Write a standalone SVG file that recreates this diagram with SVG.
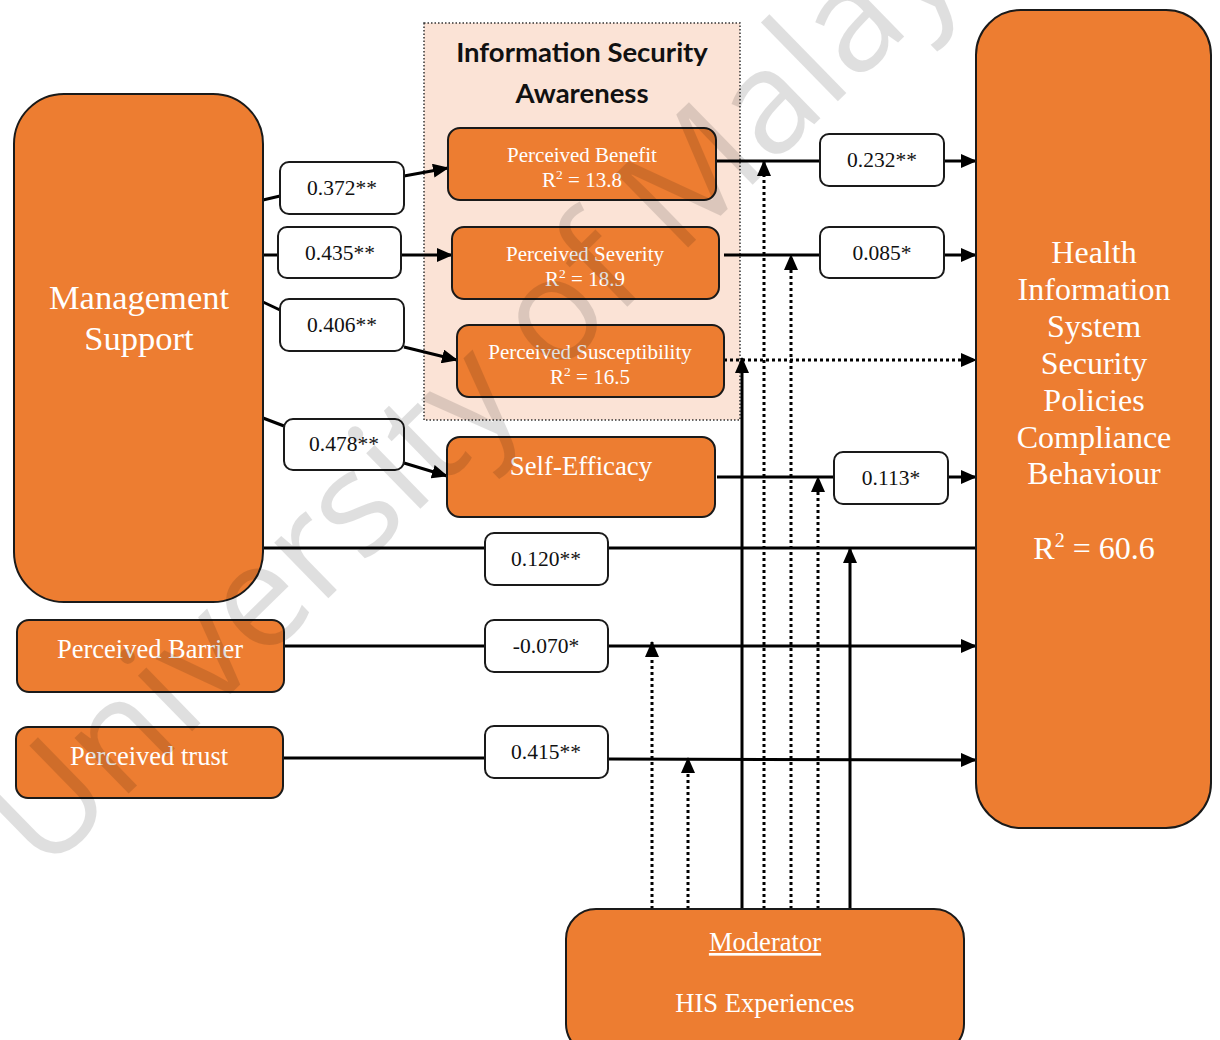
<svg xmlns="http://www.w3.org/2000/svg" width="1220" height="1040" viewBox="0 0 1220 1040">
  <style>
    .node { fill: #ed7d31; stroke: #1a1a1a; stroke-width: 2; }
    .lbl { fill: #ffffff; stroke: #1a1a1a; stroke-width: 2; }
    .wt { font-family: "Liberation Serif", "Times New Roman", serif; fill: #ffffff; text-anchor: middle; }
    .bt { font-family: "Liberation Serif", "Times New Roman", serif; fill: #111111; text-anchor: middle; font-size: 21.5px; }
    .ln { fill: none; stroke: #000; stroke-width: 3; }
    .dot { fill: none; stroke: #000; stroke-width: 3; stroke-dasharray: 3 3; }
    .wm { font-family: "Open Sans", "Liberation Sans", sans-serif; font-size: 145px; fill: #000; opacity: 0.12; }
  </style>
  <defs>
    <marker id="arr" markerUnits="userSpaceOnUse" markerWidth="16" markerHeight="14" refX="15" refY="7" orient="auto">
      <path d="M0,0 L16,7 L0,14 z" fill="#000"/>
    </marker>
  </defs>

  <rect width="1220" height="1040" fill="#ffffff"/>

  <!-- Information Security Awareness grouping -->
  <g id="isa">
    <rect x="424" y="23" width="316" height="397" fill="#fbe3d6" stroke="#333" stroke-width="1.5" stroke-dasharray="1.5 2"/>
    <text x="582" y="62" font-family="Lato, 'Open Sans', sans-serif" font-weight="bold" font-size="27.5" fill="#111" text-anchor="middle">Information Security</text>
    <text x="582" y="103" font-family="Lato, 'Open Sans', sans-serif" font-weight="bold" font-size="27.5" fill="#111" text-anchor="middle">Awareness</text>
  </g>

  <!-- Connectors -->
  <g id="connectors">
    <!-- Management Support to awareness constructs -->
    <path class="ln" d="M263,200 L280,196"/>
    <path class="ln" d="M404,176 L448,168" marker-end="url(#arr)"/>
    <path class="ln" d="M263,255 L278,255"/>
    <path class="ln" d="M401,255 L452,255" marker-end="url(#arr)"/>
    <path class="ln" d="M263,302 L280,310"/>
    <path class="ln" d="M404,347 L457,360" marker-end="url(#arr)"/>
    <path class="ln" d="M263,418 L284,426"/>
    <path class="ln" d="M404,463 L447,476" marker-end="url(#arr)"/>

    <!-- constructs to compliance behaviour -->
    <path class="ln" d="M716,161 L820,161"/>
    <path class="ln" d="M944,161 L976,161" marker-end="url(#arr)"/>
    <path class="ln" d="M724,255 L820,255"/>
    <path class="ln" d="M944,255 L976,255" marker-end="url(#arr)"/>
    <path class="dot" d="M724,360 L976,360" marker-end="url(#arr)"/>
    <path class="ln" d="M717,477 L834,477"/>
    <path class="ln" d="M948,477 L976,477" marker-end="url(#arr)"/>
    <path class="ln" d="M263,548 L485,548"/>
    <path class="ln" d="M608,548 L976,548"/>
    <path class="ln" d="M284,646 L485,646"/>
    <path class="ln" d="M608,646 L976,646" marker-end="url(#arr)"/>
    <path class="ln" d="M283,758 L485,758"/>
    <path class="ln" d="M608,759 L976,760" marker-end="url(#arr)"/>

    <!-- moderator effects -->
    <path class="dot" d="M652,909 L652,642" marker-end="url(#arr)"/>
    <path class="dot" d="M688,909 L688,758" marker-end="url(#arr)"/>
    <path class="ln" d="M742,909 L742,358" marker-end="url(#arr)"/>
    <path class="dot" d="M764,909 L764,161" marker-end="url(#arr)"/>
    <path class="dot" d="M791,909 L791,255" marker-end="url(#arr)"/>
    <path class="dot" d="M818,909 L818,477" marker-end="url(#arr)"/>
    <path class="ln" d="M850,909 L850,548" marker-end="url(#arr)"/>
  </g>

  <!-- Coefficient labels -->
  <g id="labels">
    <rect class="lbl" x="280" y="162" width="124" height="52" rx="9"/>
    <text class="bt" x="342" y="195">0.372**</text>
    <rect class="lbl" x="278" y="227" width="123" height="51" rx="9"/>
    <text class="bt" x="340" y="260">0.435**</text>
    <rect class="lbl" x="280" y="299" width="124" height="52" rx="9"/>
    <text class="bt" x="342" y="332">0.406**</text>
    <rect class="lbl" x="284" y="419" width="120" height="51" rx="9"/>
    <text class="bt" x="344" y="451">0.478**</text>
    <rect class="lbl" x="820" y="134" width="124" height="52" rx="9"/>
    <text class="bt" x="882" y="167">0.232**</text>
    <rect class="lbl" x="820" y="227" width="124" height="51" rx="9"/>
    <text class="bt" x="882" y="260">0.085*</text>
    <rect class="lbl" x="834" y="452" width="114" height="52" rx="9"/>
    <text class="bt" x="891" y="485">0.113*</text>
    <rect class="lbl" x="485" y="533" width="123" height="52" rx="9"/>
    <text class="bt" x="546" y="566">0.120**</text>
    <rect class="lbl" x="485" y="620" width="123" height="52" rx="9"/>
    <text class="bt" x="546" y="653">-0.070*</text>
    <rect class="lbl" x="485" y="726" width="123" height="52" rx="9"/>
    <text class="bt" x="546" y="759">0.415**</text>
  </g>

  <!-- Nodes -->
  <g id="management-support">
    <rect class="node" x="14" y="94" width="249" height="508" rx="50"/>
    <text class="wt" x="139" y="309" font-size="34.5">Management</text>
    <text class="wt" x="139" y="350" font-size="34.5">Support</text>
  </g>

  <g id="perceived-benefit">
    <rect class="node" x="448" y="128" width="268" height="72" rx="12"/>
    <text class="wt" x="582" y="162" font-size="21">Perceived Benefit</text>
    <text class="wt" x="582" y="187" font-size="21">R<tspan font-size="13.5" dy="-8">2</tspan><tspan dy="8"> = 13.8</tspan></text>
  </g>

  <g id="perceived-severity">
    <rect class="node" x="452" y="227" width="267" height="72" rx="12"/>
    <text class="wt" x="585" y="261" font-size="21">Perceived Severity</text>
    <text class="wt" x="585" y="286" font-size="21">R<tspan font-size="13.5" dy="-8">2</tspan><tspan dy="8"> = 18.9</tspan></text>
  </g>

  <g id="perceived-susceptibility">
    <rect class="node" x="457" y="325" width="267" height="72" rx="12"/>
    <text class="wt" x="590" y="359" font-size="21">Perceived Susceptibility</text>
    <text class="wt" x="590" y="384" font-size="21">R<tspan font-size="13.5" dy="-8">2</tspan><tspan dy="8"> = 16.5</tspan></text>
  </g>

  <g id="self-efficacy">
    <rect class="node" x="447" y="437" width="268" height="80" rx="13"/>
    <text class="wt" x="581" y="475" font-size="26.8">Self-Efficacy</text>
  </g>

  <g id="perceived-barrier">
    <rect class="node" x="17" y="620" width="267" height="72" rx="12"/>
    <text class="wt" x="150" y="658" font-size="26.5">Perceived Barrier</text>
  </g>

  <g id="perceived-trust">
    <rect class="node" x="16" y="727" width="267" height="71" rx="12"/>
    <text class="wt" x="149" y="765" font-size="26.5">Perceived trust</text>
  </g>

  <g id="compliance-behaviour">
    <rect class="node" x="976" y="10" width="235" height="818" rx="45"/>
    <text class="wt" x="1094" y="263" font-size="32">Health</text>
    <text class="wt" x="1094" y="300" font-size="32">Information</text>
    <text class="wt" x="1094" y="337" font-size="32">System</text>
    <text class="wt" x="1094" y="374" font-size="32">Security</text>
    <text class="wt" x="1094" y="411" font-size="32">Policies</text>
    <text class="wt" x="1094" y="448" font-size="32">Compliance</text>
    <text class="wt" x="1094" y="484" font-size="32">Behaviour</text>
    <text class="wt" x="1094" y="559" font-size="32">R<tspan font-size="20" dy="-12">2</tspan><tspan dy="12"> = 60.6</tspan></text>
  </g>

  <g id="moderator">
    <rect class="node" x="566" y="909" width="398" height="145" rx="30"/>
    <text class="wt" x="765" y="951" font-size="26.6" text-decoration="underline">Moderator</text>
    <text class="wt" x="765" y="1012" font-size="26.6">HIS Experiences</text>
  </g>

  <!-- watermark -->
  <text class="wm" transform="translate(44,876) rotate(-44.3)">University of Malaya</text>
</svg>
